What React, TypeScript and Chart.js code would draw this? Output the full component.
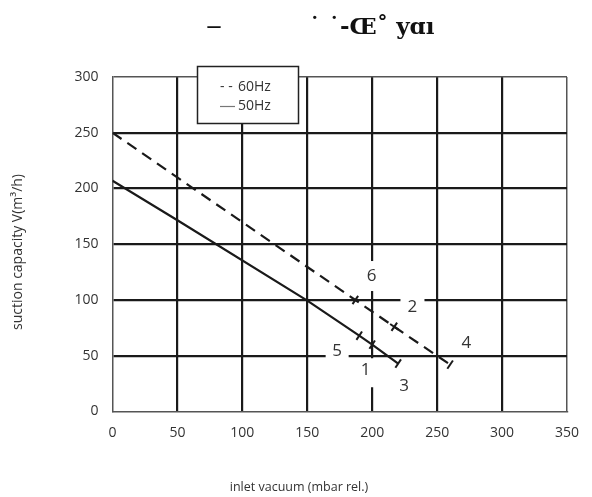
import { useEffect, useRef } from "react";
import { Chart, registerables } from "chart.js";

Chart.register(...registerables);

// ---- data ----
const xTicks = [0, 50, 100, 150, 200, 250, 300, 350];
const yTicks = [0, 50, 100, 150, 200, 250, 300];
const seriesNames = ["60Hz", "50Hz"];
const vacuum60 = [0, 187, 217, 260];
const capacity60 = [250, 100, 76, 42];
const vacuum50 = [0, 50, 150, 190, 200, 220];
const capacity50 = [207, 171.5, 99.5, 68, 60, 43];
const labelTexts = ["6", "2", "5", "1", "3", "4"];
const labelX = [199.5, 231, 173, 195, 224.5, 272.6];
const labelY = [121.5, 93.7, 54, 37, 23, 61.4];
const titleParts = ["–", "˙ ˙-Œ˚ yɑı"];
const xTitle = "inlet vacuum (mbar rel.)";
const yTitle = "suction capacity V(m³/h)";

const INK = "#1a1a1a";
const TEXT = "#333";
const SANS = '"Open Sans", "Noto Sans", sans-serif';

const overlay = {
  id: "overlay",
  beforeDatasetsDraw(chart: any) {
    const { ctx, scales } = chart;
    const xs = scales.x;
    const ys = scales.y;
    const boxes = [
      [20, 30],
      [24, 20],
      [23, 20],
      [22, 29],
      [0, 0],
      [0, 0],
    ];
    ctx.save();
    labelTexts.forEach((t, i) => {
      const px = xs.getPixelForValue(labelX[i]);
      const py = ys.getPixelForValue(labelY[i]);
      const [w, h] = boxes[i];
      if (w) {
        ctx.fillStyle = "#fff";
        ctx.fillRect(px - w / 2, py - h / 2 + (i === 3 ? 2.5 : 0), w, h);
      }
      ctx.fillStyle = TEXT;
      ctx.font = `17px ${SANS}`;
      ctx.textAlign = "center";
      ctx.textBaseline = "middle";
      ctx.fillText(t, px, py);
    });
    ctx.restore();
  },
  afterDraw(chart: any) {
    const { ctx } = chart;
    ctx.save();
    // legend box
    ctx.fillStyle = "#fff";
    ctx.fillRect(197.5, 66.5, 101, 57);
    ctx.strokeStyle = "#222";
    ctx.lineWidth = 1.5;
    ctx.strokeRect(197.5, 66.5, 101, 57);
    ctx.fillStyle = TEXT;
    ctx.font = `14px ${SANS}`;
    ctx.textAlign = "left";
    ctx.textBaseline = "middle";
    ctx.fillText("- -", 220, 87);
    ctx.fillText(seriesNames[0], 238, 87);
    ctx.strokeStyle = "#777";
    ctx.lineWidth = 1.2;
    ctx.beginPath();
    ctx.moveTo(220, 106.5);
    ctx.lineTo(235, 106.5);
    ctx.stroke();
    ctx.fillText(seriesNames[1], 238, 106);

    // axis titles
    ctx.font = `12.5px ${SANS}`;
    ctx.textAlign = "center";
    ctx.fillText(xTitle, 299, 487);
    ctx.save();
    ctx.font = `14px ${SANS}`;
    ctx.translate(18, 252);
    ctx.rotate(-Math.PI / 2);
    ctx.fillText(yTitle, 0, 0);
    ctx.restore();

    // title
    ctx.fillStyle = "#111";
    ctx.font = 'bold 26px "Liberation Serif", serif';
    ctx.textAlign = "center";
    ctx.fillText(titleParts[0], 214, 26);
    ctx.font = 'bold 23px "DejaVu Serif", "Liberation Serif", serif';
    ctx.textAlign = "left";
    ctx.fillText(titleParts[1], 309, 28);
    ctx.restore();
  },
};

const edgeColor = (edge: number) => (c: any) => {
  const v = c.tick ? c.tick.value : null;
  if (v === 0) return "rgba(0,0,0,0)";
  if (v === edge) return "#555";
  return INK;
};
const edgeWidth = (edge: number) => (c: any) => {
  const v = c.tick ? c.tick.value : null;
  if (v === edge) return 1.5;
  return 2.2;
};

export default function App() {
  const ref = useRef<HTMLCanvasElement>(null);
  useEffect(() => {
    const chart = new Chart(ref.current as HTMLCanvasElement, {
      type: "line",
      data: {
        datasets: [
          {
            label: seriesNames[0],
            data: vacuum60.map((x, i) => ({ x, y: capacity60[i] })),
            borderColor: INK,
            borderWidth: 2.2,
            borderDash: [11, 7],
            fill: false,
            tension: 0,
            pointStyle: ["line", "line", "cross", "line"] as any,
            pointRadius: [0, 5, 5, 5],
            pointRotation: [0, 124, 34, 124],
            pointBorderColor: INK,
            pointBorderWidth: 2,
            pointBackgroundColor: INK,
          },
          {
            label: seriesNames[1],
            data: vacuum50.map((x, i) => ({ x, y: capacity50[i] })),
            borderColor: INK,
            borderWidth: 2.2,
            fill: false,
            tension: 0,
            pointStyle: "line",
            pointRadius: [0, 0, 0, 5, 5, 5],
            pointRotation: 124,
            pointBorderColor: INK,
            pointBorderWidth: 2,
          },
        ],
      },
      options: {
        animation: false,
        responsive: false,
        maintainAspectRatio: false,
        layout: { padding: { top: 77, right: 22, left: 0, bottom: 0 } },
        plugins: {
          legend: { display: false },
          title: { display: false },
          tooltip: { enabled: false },
        },
        scales: {
          x: {
            type: "linear",
            min: 0,
            max: 350,
            afterFit: (s: any) => {
              s.height = 85.5;
            },
            afterBuildTicks: (s: any) => {
              s.ticks = xTicks.map((v) => ({ value: v }));
            },
            ticks: {
              padding: 13,
              color: TEXT,
              font: { family: SANS, size: 14 },
              maxRotation: 0,
              autoSkip: false,
            },
            grid: {
              drawTicks: false,
              color: edgeColor(350) as any,
              lineWidth: edgeWidth(350) as any,
            },
            border: { display: true, color: "#555", width: 1.5 },
          },
          y: {
            type: "linear",
            min: 0,
            max: 300,
            afterFit: (s: any) => {
              s.width = 112.5;
            },
            afterBuildTicks: (s: any) => {
              s.ticks = yTicks.map((v) => ({ value: v }));
            },
            ticks: {
              padding: 14,
              color: TEXT,
              font: { family: SANS, size: 14 },
              autoSkip: false,
            },
            grid: {
              drawTicks: false,
              color: edgeColor(300) as any,
              lineWidth: edgeWidth(300) as any,
            },
            border: { display: true, color: "#555", width: 1.5 },
          },
        },
      },
      plugins: [overlay],
    } as any);
    return () => chart.destroy();
  }, []);
  return (
    <div
      style={{
        position: "fixed",
        left: 0,
        top: 0,
        width: 592,
        height: 497,
        background: "#fff",
      }}
    >
      <canvas ref={ref} width={592} height={497} style={{ display: "block" }} />
    </div>
  );
}
